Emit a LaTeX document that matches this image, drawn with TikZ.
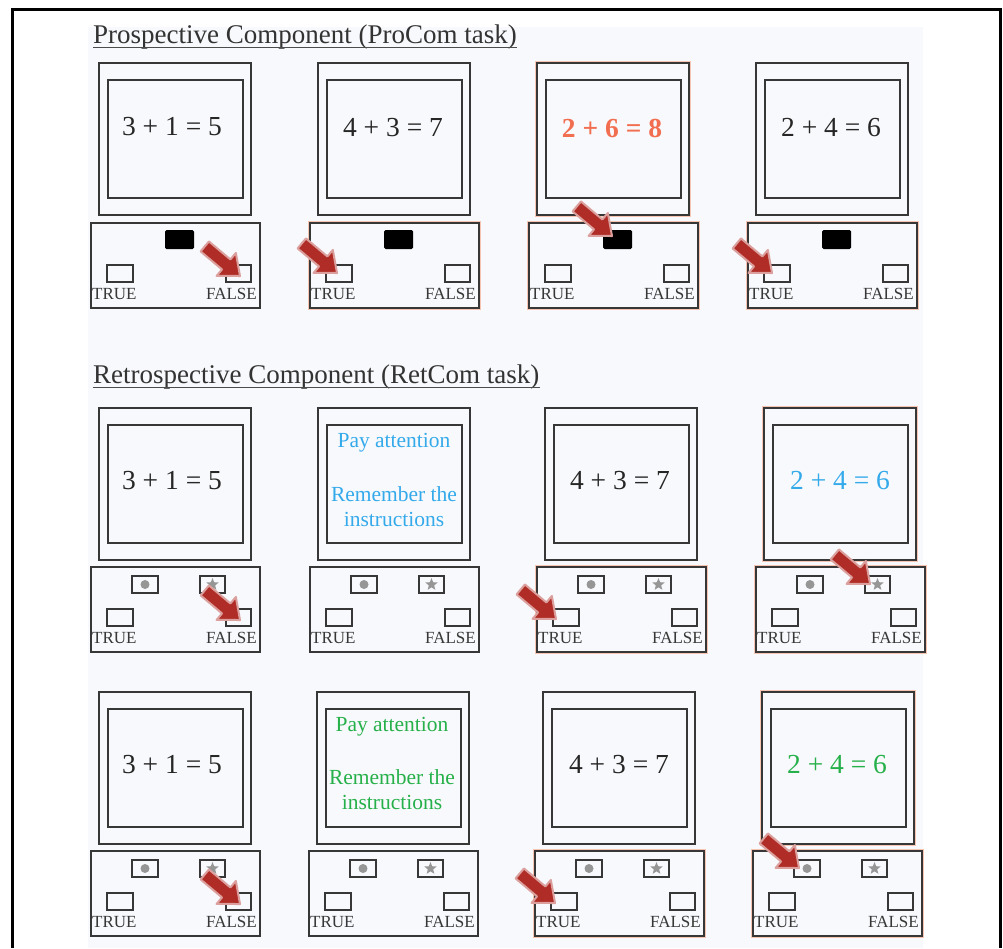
\documentclass[tikz,border=0pt]{standalone}
\usepackage{fontspec}
\setmainfont{Liberation Serif}
\usetikzlibrary{shapes.geometric}

\definecolor{arrowred}{RGB}{176,44,38}
\definecolor{eqorange}{RGB}{242,110,80}
\definecolor{eqblue}{RGB}{52,170,235}
\definecolor{eqgreen}{RGB}{38,176,74}
\definecolor{panelbg}{RGB}{248,249,252}
\definecolor{framegray}{RGB}{55,55,55}
\definecolor{keygray}{RGB}{150,150,150}
\definecolor{litedge}{RGB}{246,196,176}

\tikzset{
  frame/.style={draw=framegray, line width=1.2},
  key/.style={draw=framegray, line width=1.1},
  keylbl/.style={inner sep=0, text=framegray, font=\fontsize{17}{19}\selectfont},
  eq/.style={inner sep=0, text=black!85, font=\fontsize{27.5}{30}\selectfont},
  note/.style={inner sep=0, font=\fontsize{21.5}{24}\selectfont},
  ttl/.style={inner sep=0, anchor=base west, text=black!80, font=\fontsize{27}{30}\selectfont},
  dotkey/.style={circle, fill=keygray, inner sep=0, minimum size=9},
  starkey/.style={star, star points=5, star point ratio=2.3, fill=keygray, inner sep=0, minimum size=13}
}

% monitor, #1,#2 = top left corner
\newcommand{\screenbox}[2]{%
  \draw[frame] (#1,#2) rectangle ++(152,152);
  \draw[frame] (#1+9,#2+17) rectangle ++(135,118);}
% response pad, #1 = name, #2,#3 = top left corner
\newcommand{\padbox}[3]{%
  \draw[frame] (#2,#3) rectangle ++(169,85);
  \draw[key] (#2+16,#3+42) rectangle ++(26,17);
  \draw[key] (#2+135,#3+42) rectangle ++(25,17);
  \node[keylbl, anchor=base west] (#1t) at (#2+1,#3+76) {TRUE};
  \node[keylbl, anchor=base east] (#1f) at (#2+166,#3+76) {FALSE};}
% black cue key
\newcommand{\cuekey}[2]{%
  \fill[black, rounded corners=1.5] (#1+74,#2+7) rectangle ++(29,19);}
% circle and star keys
\newcommand{\choicekeys}[3]{%
  \draw[key] (#2+41,#3+9) rectangle ++(26,17);
  \draw[key] (#2+109,#3+9) rectangle ++(25,17);
  \node[dotkey] (#1c) at (#2+54,#3+17.5) {};
  \node[starkey] (#1s) at (#2+121.5,#3+17.5) {};}
% reddish edge round an active box
\newcommand{\glowedge}[4]{%
  \draw[litedge, line width=1] (#1-1.5,#2-1.5) rectangle ++(#3+3,#4+3);}
% press arrow, tip at (#1,#2)
\newcommand{\pressarrow}[2]{%
  \filldraw[fill=arrowred, draw=arrowred!45, line width=2, line join=round, shift={(#1,#2)}, rotate=-40]
    (0,0) -- (-18,15) -- (-18,6.5) -- (-46,6.5) -- (-46,-6.5) -- (-18,-6.5) -- (-18,-15) -- cycle;}

\begin{document}
\begin{tikzpicture}[x=1pt, y=-1pt]
  \useasboundingbox (0,0) rectangle (1003,948);
  \fill[panelbg] (88,27) rectangle (923,948);
  \draw[black, line width=3] (12,948) -- (12,9) -- (1000,9) -- (1000,948);

  % Prospective component
  \node[ttl] (ttlpro) at (93,43) {Prospective Component (ProCom task)};
  \draw[black!70, line width=1] ([yshift=-4]ttlpro.base west) -- ([yshift=-4]ttlpro.base east);

  \glowedge{537}{63}{152}{152}
  \glowedge{310}{223}{169}{85}
  \glowedge{529}{223}{169}{85}
  \glowedge{748}{223}{169}{85}
  \screenbox{99}{63}  \screenbox{318}{63}  \screenbox{537}{63}  \screenbox{756}{63}
  \padbox{pa}{91}{223}  \padbox{pb}{310}{223}  \padbox{pc}{529}{223}  \padbox{pd}{748}{223}
  \cuekey{91}{223}  \cuekey{310}{223}  \cuekey{529}{223}  \cuekey{748}{223}
  \node[eq] (pa1) at (172,127) {3 + 1 = 5};
  \node[eq] (pb1) at (393,128) {4 + 3 = 7};
  \node[eq, text=eqorange, font=\fontsize{27.5}{30}\bfseries] (pc1) at (612,128) {2 + 6 = 8};
  \node[eq] (pd1) at (831,128) {2 + 4 = 6};
  \pressarrow{240}{276}
  \pressarrow{337}{273}
  \pressarrow{612}{236}
  \pressarrow{772}{273}

  % Retrospective component
  \node[ttl] (ttlret) at (93,383) {Retrospective Component (RetCom task)};
  \draw[black!70, line width=1] ([yshift=-4]ttlret.base west) -- ([yshift=-4]ttlret.base east);

  % blue row
  \glowedge{764}{408}{152}{152}
  \glowedge{537}{567}{169}{85}
  \glowedge{756}{567}{169}{85}
  \screenbox{99}{408}  \screenbox{318}{408}  \screenbox{545}{408}  \screenbox{764}{408}
  \padbox{ra}{91}{567}  \padbox{rb}{310}{567}  \padbox{rc}{537}{567}  \padbox{rd}{756}{567}
  \choicekeys{ra}{91}{567}  \choicekeys{rb}{310}{567}  \choicekeys{rc}{537}{567}  \choicekeys{rd}{756}{567}
  \node[eq] (ra1) at (172,481) {3 + 1 = 5};
  \node[note, text=eqblue] (rb1) at (394,443) {Pay attention};
  \node[note, text=eqblue] (rb2) at (394,494) {Remember the};
  \node[note, text=eqblue] (rb3) at (394,519) {instructions};
  \node[eq] (rc1) at (620,481) {4 + 3 = 7};
  \node[eq, text=eqblue] (rd1) at (840,481) {2 + 4 = 6};
  \pressarrow{240}{620}
  \pressarrow{556}{619}
  \pressarrow{870}{584}

  % green row
  \glowedge{762}{692}{152}{152}
  \glowedge{535}{851}{169}{85}
  \glowedge{753}{851}{169}{85}
  \screenbox{99}{692}  \screenbox{317}{692}  \screenbox{543}{692}  \screenbox{762}{692}
  \padbox{ga}{91}{851}  \padbox{gb}{309}{851}  \padbox{gc}{535}{851}  \padbox{gd}{753}{851}
  \choicekeys{ga}{91}{851}  \choicekeys{gb}{309}{851}  \choicekeys{gc}{535}{851}  \choicekeys{gd}{753}{851}
  \node[eq] (ga1) at (172,765) {3 + 1 = 5};
  \node[note, text=eqgreen] (gb1) at (392,727) {Pay attention};
  \node[note, text=eqgreen] (gb2) at (392,777) {Remember the};
  \node[note, text=eqgreen] (gb3) at (392,802) {instructions};
  \node[eq] (gc1) at (619,765) {4 + 3 = 7};
  \node[eq, text=eqgreen] (gd1) at (837,765) {2 + 4 = 6};
  \pressarrow{240}{904}
  \pressarrow{555}{903}
  \pressarrow{799}{868}
\end{tikzpicture}
\end{document}
